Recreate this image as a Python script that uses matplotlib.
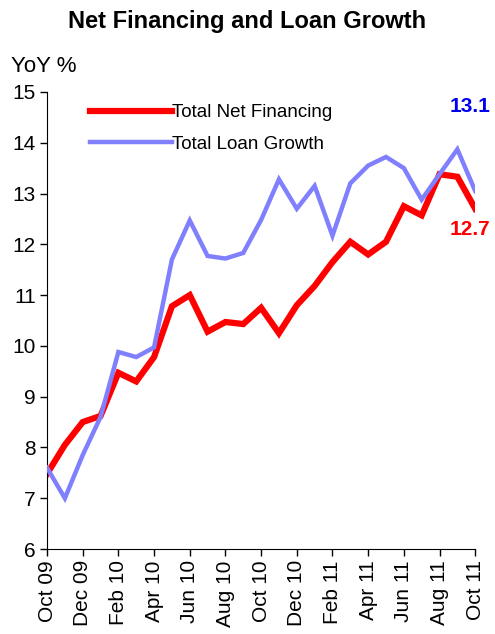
import numpy as np
import matplotlib
matplotlib.use("Agg")
import matplotlib.pyplot as plt

plt.rcParams['font.family'] = ['Liberation Sans', 'DejaVu Sans']

# Monthly data, Oct 09 .. Oct 11
months = ['Oct 09', 'Nov 09', 'Dec 09', 'Jan 10', 'Feb 10', 'Mar 10', 'Apr 10',
          'May 10', 'Jun 10', 'Jul 10', 'Aug 10', 'Sep 10', 'Oct 10', 'Nov 10',
          'Dec 10', 'Jan 11', 'Feb 11', 'Mar 11', 'Apr 11', 'May 11', 'Jun 11',
          'Jul 11', 'Aug 11', 'Sep 11', 'Oct 11']
net_financing = [7.48, 8.05, 8.5, 8.62, 9.47, 9.3, 9.78, 10.78, 11.0, 10.28,
                 10.47, 10.43, 10.75, 10.25, 10.8, 11.18, 11.65, 12.05, 11.8,
                 12.05, 12.75, 12.57, 13.38, 13.33, 12.7]
loan_growth = [7.6, 7.0, 7.85, 8.6, 9.88, 9.78, 9.97, 11.7, 12.47, 11.77,
               11.72, 11.83, 12.48, 13.28, 12.7, 13.15, 12.17, 13.2, 13.55,
               13.72, 13.5, 12.88, 13.38, 13.87, 13.05]

x = np.arange(len(months))

fig = plt.figure(figsize=(4.95, 6.34), dpi=100)
ax = fig.add_axes([0.095, 0.134, 0.865, 0.721])

ax.plot(x, net_financing, color='#ff0000', lw=4.5, label='Total Net Financing',
        solid_joinstyle='miter', zorder=2)
ax.plot(x, loan_growth, color='#8080ff', lw=3.2, label='Total Loan Growth',
        solid_joinstyle='miter', zorder=3)

ax.set_xlim(0, len(months) - 1)
ax.set_ylim(6, 15)
ax.set_yticks(range(6, 16))
ax.set_xticks(x[::2])
ax.set_xticklabels(months[::2], rotation=90)
ax.tick_params(labelsize=15, length=5, width=1, direction='out', pad=3)

for s in ['top', 'right']:
    ax.spines[s].set_visible(False)

ax.legend(loc='upper left', bbox_to_anchor=(0.06, 1.01), frameon=False,
          fontsize=13.5, handlelength=4.4, handletextpad=0.0, labelspacing=0.75)

ax.annotate('13.1', (x[-2], loan_growth[-2]), xytext=(9, 24), textcoords='offset points',
            color='#0000ee', fontsize=15, fontweight='bold', ha='center', va='bottom')
ax.annotate('12.7', (x[-1], net_financing[-1]), xytext=(-4, -8), textcoords='offset points',
            color='#ff0000', fontsize=15, fontweight='bold', ha='center', va='top')

fig.text(0.5, 0.966, 'Net Financing and Loan Growth', ha='center', va='center',
         fontsize=17, fontweight='bold')
fig.text(0.022, 0.895, 'YoY %', ha='left', va='center', fontsize=16)

fig.savefig('out.png', dpi=100)
